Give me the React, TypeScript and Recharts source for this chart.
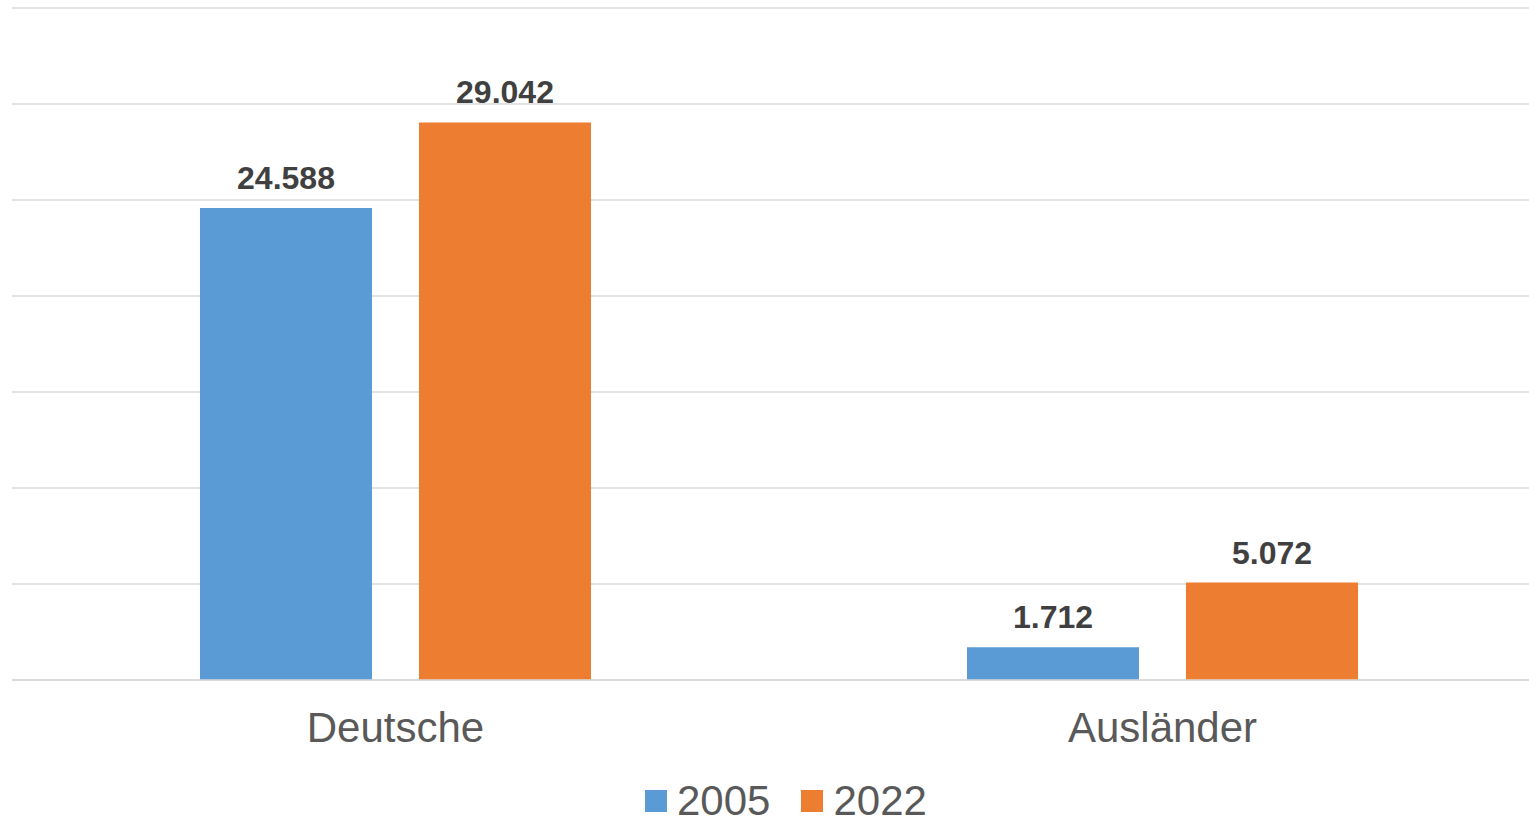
import React from "react";
import { BarChart, Bar, XAxis, YAxis, CartesianGrid, LabelList, Legend } from "recharts";

const categories = ["Deutsche", "Ausländer"];
const values2005 = [24588, 1712];
const values2022 = [29042, 5072];
const seriesNames = ["2005", "2022"];
const seriesColors = ["#5B9BD5", "#ED7D31"];
const yTicks = [0, 5000, 10000, 15000, 20000, 25000, 30000, 35000];

const data = categories.map((c, i) => ({ name: c, v2005: values2005[i], v2022: values2022[i] }));

const FONT = '"Liberation Sans", Arial, sans-serif';

const fmt = (v: any) => {
  const s = String(Math.round(Number(v)));
  return s.replace(/\B(?=(\d{3})+(?!\d))/g, ".");
};

const LegendContent = () => (
  <div style={{ display: "flex", alignItems: "center", fontFamily: FONT, fontSize: 42, lineHeight: "42px", color: "#595959" }}>
    {seriesNames.map((n, i) => (
      <div key={n} style={{ display: "flex", alignItems: "center", marginLeft: i === 0 ? 0 : 31 }}>
        <div style={{ width: 22, height: 22, background: seriesColors[i], marginRight: 10 }} />
        <span>{n}</span>
      </div>
    ))}
  </div>
);

export default function App() {
  return (
    <div style={{ position: "fixed", left: 0, top: 0, width: 1529, height: 822, overflow: "hidden", background: "#fff" }}>
      <BarChart
        width={1546}
        height={822}
        data={data}
        margin={{ top: 8, left: 12, right: 0, bottom: 62 }}
        barSize={172}
        barGap={47}
      >
        <CartesianGrid horizontal={true} vertical={false} stroke="#d9d9d9" strokeWidth={1.5} />
        <YAxis hide domain={[0, 35000]} ticks={yTicks} />
        <XAxis
          dataKey="name"
          height={80}
          axisLine={{ stroke: "#d9d9d9", strokeWidth: 1.5 }}
          tickLine={false}
          tickSize={6}
          tickMargin={26}
          tick={{ fill: "#595959", fontSize: 42, fontFamily: FONT }}
        />
        <Legend
          layout="horizontal"
          verticalAlign="middle"
          align="center"
          wrapperStyle={{ top: 780, left: 645, width: 340, height: 42 }}
          content={<LegendContent />}
        />
        <Bar dataKey="v2005" name={seriesNames[0]} fill={seriesColors[0]} isAnimationActive={false}>
          <LabelList dataKey="v2005" position="top" offset={19} formatter={fmt} fill="#404040" fontSize={32} fontWeight="bold" fontFamily={FONT} />
        </Bar>
        <Bar dataKey="v2022" name={seriesNames[1]} fill={seriesColors[1]} isAnimationActive={false}>
          <LabelList dataKey="v2022" position="top" offset={19} formatter={fmt} fill="#404040" fontSize={32} fontWeight="bold" fontFamily={FONT} />
        </Bar>
      </BarChart>
    </div>
  );
}
